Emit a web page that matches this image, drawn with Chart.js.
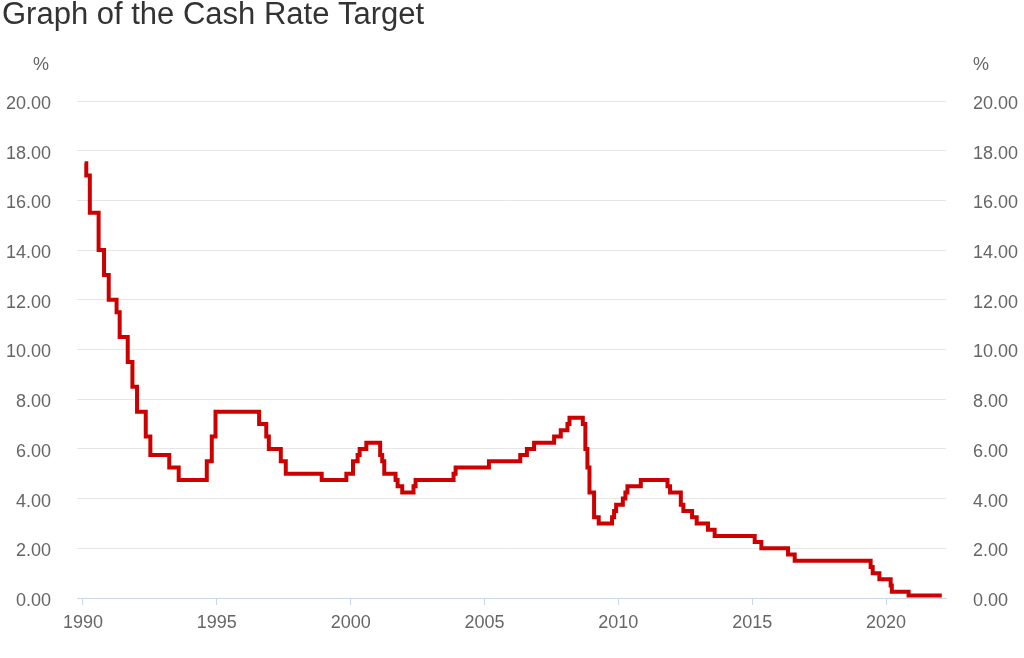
<!DOCTYPE html>
<html lang="en">
<head>
<meta charset="UTF-8">
<title>Graph of the Cash Rate Target</title>
<script src="https://cdn.jsdelivr.net/npm/chart.js"></script>
<style>
  body { margin: 0; background: #ffffff; }
  #wrap { width: 1024px; height: 658px; }
</style>
</head>
<body>
<div id="wrap"><canvas id="cashRate" width="1024" height="658"></canvas></div>
<script>
// Dates at which the cash rate target changed, and the new target (%)
const changeDates = [
  '1990-01-23', '1990-02-15', '1990-04-04', '1990-08-02', '1990-10-15', '1990-12-18',
  '1991-04-04', '1991-05-16', '1991-09-03', '1991-11-06', '1992-01-08', '1992-05-06',
  '1992-07-08', '1993-03-23', '1993-07-30', '1994-08-17', '1994-10-24', '1994-12-14',
  '1996-07-31', '1996-11-06', '1996-12-11', '1997-05-23', '1997-07-30', '1998-12-02',
  '1999-11-03', '2000-02-02', '2000-04-05', '2000-05-03', '2000-08-02', '2001-02-07',
  '2001-03-07', '2001-04-04', '2001-09-05', '2001-10-03', '2001-12-05', '2002-05-08',
  '2002-06-05', '2003-11-05', '2003-12-03', '2005-03-02', '2006-05-03', '2006-08-02',
  '2006-11-08', '2007-08-08', '2007-11-07', '2008-02-06', '2008-03-05', '2008-09-03',
  '2008-10-08', '2008-11-05', '2008-12-03', '2009-02-04', '2009-04-08', '2009-10-07',
  '2009-11-04', '2009-12-02', '2010-03-03', '2010-04-07', '2010-05-05', '2010-11-03',
  '2011-11-02', '2011-12-07', '2012-05-02', '2012-06-06', '2012-10-03', '2012-12-05',
  '2013-05-08', '2013-08-07', '2015-02-04', '2015-05-06', '2016-05-04', '2016-08-03',
  '2019-06-05', '2019-07-03', '2019-10-02', '2020-03-04', '2020-03-20', '2020-11-04',
  '2022-01-31'
];
const cashRates = [
  17.50, 17.00, 15.50, 14.00, 13.00, 12.00,
  11.50, 10.50, 9.50, 8.50, 7.50, 6.50,
  5.75, 5.25, 4.75, 5.50, 6.50, 7.50,
  7.00, 6.50, 6.00, 5.50, 5.00, 4.75,
  5.00, 5.50, 5.75, 6.00, 6.25, 5.75,
  5.50, 5.00, 4.75, 4.50, 4.25, 4.50,
  4.75, 5.00, 5.25, 5.50, 5.75, 6.00,
  6.25, 6.50, 6.75, 7.00, 7.25, 7.00,
  6.00, 5.25, 4.25, 3.25, 3.00, 3.25,
  3.50, 3.75, 4.00, 4.25, 4.50, 4.75,
  4.50, 4.25, 3.75, 3.50, 3.25, 3.00,
  2.75, 2.50, 2.25, 2.00, 1.75, 1.50,
  1.25, 1.00, 0.75, 0.50, 0.25, 0.10,
  0.10
];
const yearTicks = [1990, 1995, 2000, 2005, 2010, 2015, 2020];
const rateTicks = [0, 2, 4, 6, 8, 10, 12, 14, 16, 18, 20];

const FONT = "'Liberation Sans', Arial, sans-serif";

// turn 'YYYY-MM-DD' into a decimal year for the linear x axis
function toYear(s) {
  const d = new Date(s + 'T00:00:00Z');
  const y = d.getUTCFullYear();
  const start = Date.UTC(y, 0, 1), end = Date.UTC(y + 1, 0, 1);
  return y + (d.getTime() - start) / (end - start);
}

const points = changeDates.map((d, i) => ({ x: toYear(d), y: cashRates[i] }));

// "%" above both value axes
const percentLabels = {
  id: 'percentLabels',
  afterDraw(chart) {
    const { ctx, chartArea } = chart;
    ctx.save();
    ctx.font = '18px ' + FONT;
    ctx.fillStyle = '#666666';
    ctx.textBaseline = 'middle';
    ctx.textAlign = 'right';
    ctx.fillText('%', chartArea.left - 28, 65);
    ctx.textAlign = 'left';
    ctx.fillText('%', chartArea.right + 27, 65);
    ctx.restore();
  }
};

const yTicks = {
  font: { size: 18, family: FONT },
  color: '#666666',
  padding: 26,
  labelOffset: 3,
  callback: v => Number(v).toFixed(2)
};

new Chart(document.getElementById('cashRate').getContext('2d'), {
  type: 'line',
  data: {
    datasets: [{
      label: 'Cash rate target',
      data: points,
      stepped: true,
      borderColor: '#cc0000',
      borderWidth: 4,
      pointRadius: 0,
      fill: false
    }]
  },
  options: {
    responsive: false,
    animation: false,
    layout: { padding: { left: 2, right: 0, top: 0, bottom: 0 } },
    plugins: {
      legend: { display: false },
      tooltip: { enabled: false },
      title: {
        display: true,
        text: 'Graph of the Cash Rate Target',
        align: 'start',
        color: '#333333',
        font: { size: 31, family: FONT, weight: 'normal', lineHeight: 1 },
        padding: { top: 0, bottom: 70 }
      }
    },
    scales: {
      x: {
        type: 'linear',
        min: 1989.776,
        max: 2022.24,
        afterBuildTicks: s => { s.ticks = yearTicks.map(v => ({ value: v })); },
        afterFit: s => { s.height = 60; },
        ticks: {
          font: { size: 18, family: FONT },
          color: '#666666',
          padding: 7,
          maxRotation: 0,
          autoSkip: false,
          callback: v => String(v)
        },
        grid: { drawOnChartArea: false, drawTicks: true, tickLength: 7, color: '#ccd6eb' },
        border: { color: '#ccd6eb', width: 1 }
      },
      y: {
        position: 'left',
        min: 0,
        max: 20,
        afterBuildTicks: s => { s.ticks = rateTicks.map(v => ({ value: v })); },
        afterFit: s => { s.width = 75; },
        ticks: yTicks,
        grid: { color: '#e6e6e6', drawTicks: false },
        border: { display: false }
      },
      y2: {
        position: 'right',
        min: 0,
        max: 20,
        afterBuildTicks: s => { s.ticks = rateTicks.map(v => ({ value: v })); },
        afterFit: s => { s.width = 78; },
        ticks: Object.assign({}, yTicks, { padding: 27 }),
        grid: { display: false, drawTicks: false },
        border: { display: false }
      }
    }
  },
  plugins: [percentLabels]
});
</script>
</body>
</html>
